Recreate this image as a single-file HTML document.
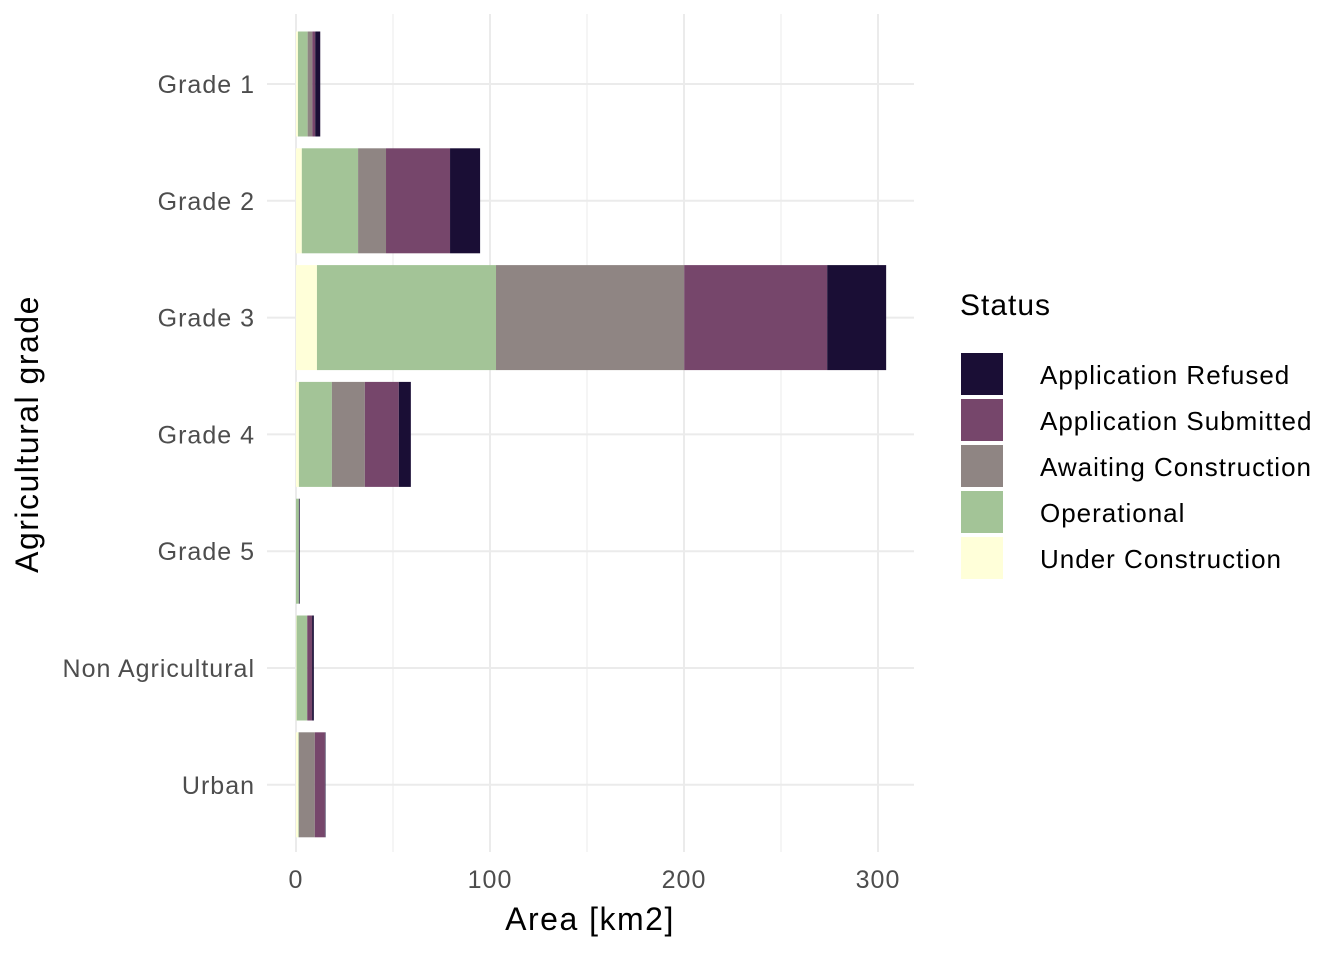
<!DOCTYPE html>
<html><head><meta charset="utf-8"><style>
body{margin:0;background:#fff;font-family:"Liberation Sans",sans-serif}
</style></head><body>
<svg width="1344" height="960" xmlns="http://www.w3.org/2000/svg" id="svg">
<g id="grid"></g>
<g id="bars"></g>
<g id="axes"></g>
<text x="590" y="930" font-size="32" letter-spacing="1.5" text-anchor="middle" fill="#000">Area [km2]</text>
<text transform="translate(38,434) rotate(-90)" font-size="32" letter-spacing="1.5" text-anchor="middle" fill="#000">Agricultural grade</text>
<g id="legend"></g>
</svg>
<script>
const categories=["Grade 1","Grade 2","Grade 3","Grade 4","Grade 5","Non Agricultural","Urban"];
const statuses=["Under Construction","Operational","Awaiting Construction","Application Submitted","Application Refused"];
const colors=["#ffffd9","#a3c497","#8f8583","#76466b","#1a0e35"];
const underConstruction=[1,3,10.8,1.5,0,0.3,1.2];
const operational=[5,29,92.3,17,1.5,5.5,0.3];
const awaiting=[2.4,14.4,97,17,0,0,8.2];
const submitted=[1.5,33,73.7,17.5,0,2.5,5.2];
const refused=[2.6,15.5,30.4,6.2,0.4,0.9,0.3];
const xTicks=[0,100,200,300];
const xMinor=[50,150,250];
const series=[underConstruction,operational,awaiting,submitted,refused];
const legendOrder=[4,3,2,1,0];
const NS="http://www.w3.org/2000/svg";
const x=v=>296+v*1.94;
const yc=i=>84+i*116.8;
const bw=105;
function mk(t,a,p){const e=document.createElementNS(NS,t);for(const k in a)e.setAttribute(k,a[k]);p.appendChild(e);return e;}
const grid=document.getElementById('grid'),bars=document.getElementById('bars'),axes=document.getElementById('axes'),leg=document.getElementById('legend');
xMinor.forEach(v=>{const l=mk('line',{x1:x(v),x2:x(v),y1:14,y2:852,stroke:'#ebebeb','stroke-width':1},grid);

});
xTicks.forEach(v=>{const l=mk('line',{x1:x(v),x2:x(v),y1:14,y2:852,stroke:'#ebebeb','stroke-width':2},grid);


const t=mk('text',{x:x(v),y:888,'font-size':25,'letter-spacing':1,'text-anchor':'middle',fill:'#4d4d4d'},axes);t.textContent=v;

});
categories.forEach((c,i)=>{const l=mk('line',{x1:267,x2:914,y1:yc(i),y2:yc(i),stroke:'#ebebeb','stroke-width':2},grid);


const t=mk('text',{x:255,y:yc(i)+9,'font-size':25,'letter-spacing':1,'text-anchor':'end',fill:'#4d4d4d'},axes);t.textContent=c;


let acc=0;series.forEach((s,k)=>{const v=s[i];if(v<=0)return;
const r=mk('rect',{x:x(acc),y:yc(i)-bw/2,width:x(acc+v)-x(acc),height:bw,fill:colors[k]},bars);

acc+=v;});});
const lt=mk('text',{x:960,y:315,'font-size':30,'letter-spacing':1,fill:'#000'},leg);lt.textContent='Status';


legendOrder.forEach((k,j)=>{const y0=353+j*46;
const r=mk('rect',{x:961,y:y0,width:42,height:42,fill:colors[k]},leg);


const t=mk('text',{x:1040,y:y0+31,'font-size':26,'letter-spacing':1,fill:'#000'},leg);t.textContent=statuses[k];

});
</script>
</body></html>
